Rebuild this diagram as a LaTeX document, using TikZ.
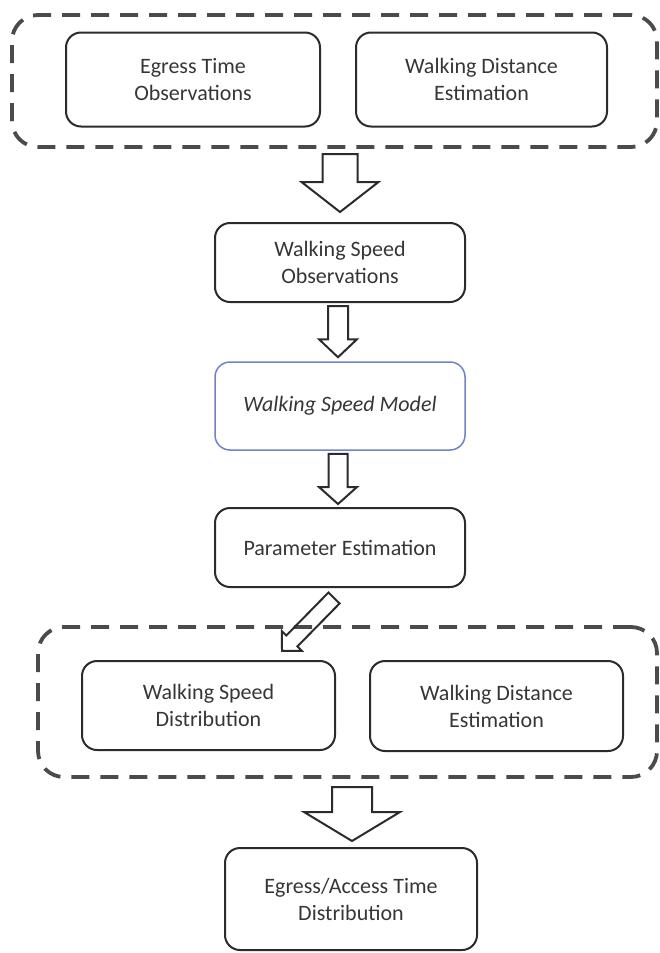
\documentclass[tikz,border=0pt]{standalone}
\usepackage{fontspec}
\setmainfont{Carlito}
\usetikzlibrary{calc}

\definecolor{ink}{HTML}{363636}
\definecolor{frame}{HTML}{2B2B2B}
\definecolor{modelblue}{HTML}{6F83C9}

\tikzset{
  box/.style={draw=frame, line width=2pt, rounded corners=15pt, align=center,
    text=ink, font=\fontsize{22}{27}\selectfont, inner sep=0pt},
  groupbox/.style={draw=frame!85, line width=3.8pt, dash pattern=on 18pt off 11pt,
    rounded corners=26pt, inner sep=0pt},
  blk/.style={draw=frame, line width=2pt, line join=miter},
}

% hollow block arrow from #1 to #2: shaft half width #3, head half width #4, head length #5
\newcommand\blockarrow[5]{%
  \path let \p1=(#1), \p2=(#2),
            \n1={atan2(\y2-\y1,\x2-\x1)}, \n2={veclen(\x2-\x1,\y2-\y1)} in
    \pgfextra{\xdef\baAngle{\n1}\xdef\baLength{\n2}};
  \begin{scope}[shift={(#1)}, rotate=\baAngle]
    \draw[blk] (0pt,#3pt) -- ({\baLength-#5pt},#3pt) -- ({\baLength-#5pt},#4pt)
      -- ({\baLength},0pt) -- ({\baLength-#5pt},-#4pt) -- ({\baLength-#5pt},-#3pt)
      -- (0pt,-#3pt) -- cycle;
  \end{scope}}

\begin{document}
\begin{tikzpicture}[x=1pt, y=-1pt]
  \useasboundingbox (0,0) rectangle (660,953);

  % grouped inputs
  \node[groupbox, minimum width=645pt, minimum height=132pt] (top) at (334.5,81) {};
  \node[box, minimum width=254pt, minimum height=94pt] (eto) at (193,79.5)
    {Egress Time\\Observations};
  \node[box, minimum width=251pt, minimum height=94pt] (wde1) at (481.5,79.5)
    {Walking Distance\\Estimation};

  % main chain
  \node[box, minimum width=250pt, minimum height=79pt] (wso) at (340,262.5)
    {Walking Speed\\Observations};
  \node[box, draw=modelblue, line width=1.5pt, minimum width=250pt, minimum height=88pt]
    (wsm) at (340,406) {\itshape Walking Speed Model};
  \node[box, minimum width=250pt, minimum height=79pt] (pe) at (340,547.5)
    {Parameter Estimation};

  % grouped outputs
  \node[groupbox, minimum width=619pt, minimum height=150pt] (bot) at (347.5,702) {};
  \node[box, minimum width=253pt, minimum height=89pt] (wsd) at (208.5,705.5)
    {Walking Speed\\Distribution};
  \node[box, minimum width=253pt, minimum height=90pt] (wde2) at (496.5,706)
    {Walking Distance\\Estimation};

  \node[box, minimum width=252pt, minimum height=102pt] (eatd) at (351,899)
    {Egress/Access Time\\Distribution};

  % arrow end points
  \coordinate (a1s) at ($(wso.north)+(0,-68)$);
  \coordinate (a1e) at ($(wso.north)+(0,-10)$);
  \coordinate (a2s) at ($(wso.south)+(-2,3)$);
  \coordinate (a2e) at ($(wsm.north)+(-2,-4)$);
  \coordinate (a3s) at ($(wsm.south)+(-2,3)$);
  \coordinate (a3e) at ($(pe.north)+(-2,-3)$);
  \coordinate (a4s) at ($(pe.south)+(-6,10)$);
  \coordinate (a4e) at ($(wsd.north)+(73.5,-9)$);
  \coordinate (a5s) at ($(eatd.north)+(1,-60)$);
  \coordinate (a5e) at ($(eatd.north)+(1,-6)$);

  \blockarrow{a1s}{a1e}{17.5}{38.5}{30}
  \blockarrow{a2s}{a2e}{10}{19}{18}
  \blockarrow{a3s}{a3e}{9.5}{19}{17}
  \blockarrow{a4s}{a4e}{7.8}{14}{14}
  \blockarrow{a5s}{a5e}{20}{48}{29}
\end{tikzpicture}
\end{document}
